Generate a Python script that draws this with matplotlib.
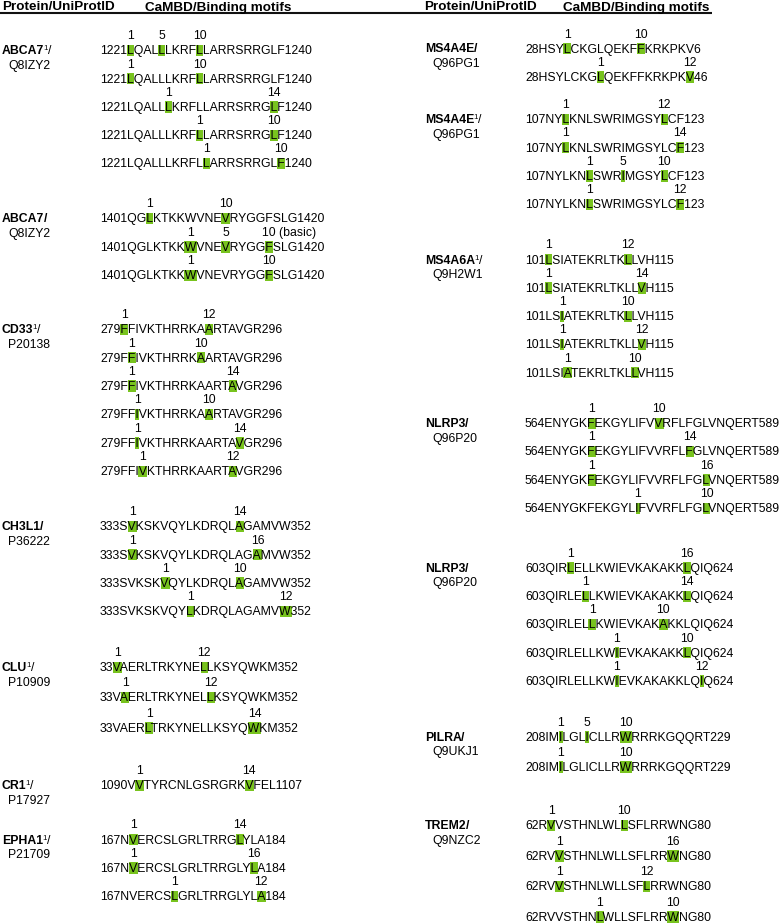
import matplotlib
matplotlib.use("Agg")
import matplotlib.pyplot as plt
from matplotlib.font_manager import FontProperties
from matplotlib.patches import Rectangle

# ---------------- data ----------------
protein_names = ["ABCA7", "ABCA7", "CD33", "CH3L1", "CLU", "CR1", "EPHA1",
                 "MS4A4E", "MS4A4E", "MS4A6A", "NLRP3", "NLRP3", "PILRA", "TREM2"]
uniprot_ids = ["Q8IZY2", "Q8IZY2", "P20138", "P36222", "P10909", "P17927", "P21709",
               "Q96PG1", "Q96PG1", "Q9H2W1", "Q96P20", "Q96P20", "Q9UKJ1", "Q9NZC2"]
footnote_marks = ["1", "", "1", "", "1", "1", "1", "", "1", "1", "", "", "", ""]
domain_starts = ["1221", "1401", "279", "333", "33", "1090", "167",
                 "28", "107", "101", "564", "603", "208", "62"]

block_sequences = [
    ["1221LQALLLKRFLLARRSRRGLF1240"] * 5,
    ["1401QGLKTKKWVNEVRYGGFSLG1420"] * 3,
    ["279FFIVKTHRRKAARTAVGR296"] * 6,
    ["333SVKSKVQYLKDRQLAGAMVW352"] * 4,
    ["33VAERLTRKYNELLKSYQWKM352"] * 3,
    ["1090VVTYRCNLGSRGRKVFEL1107"],
    ["167NVERCSLGRLTRRGLYLA184"] * 3,
    ["28HSYLCKGLQEKFFKRKPKV6", "28HSYLCKGLQEKFFKRKPKV46"],
    ["107NYLKNLSWRIMGSYLCF123"] * 4,
    ["101LSIATEKRLTKLLVH115"] * 5,
    ["564ENYGKFEKGYLIFVVRFLFGLVNQERT589"] * 4,
    ["603QIRLELLKWIEVKAKAKKLQIQ624"] * 5,
    ["208IMILGLICLLRWRRRKGQQRT229"] * 2,
    ["62RVVSTHNLWLLSFLRRWNG80"] * 4,
]

# highlighted residues (0-based index into the residues after the start number)
block_anchor_residues = [
    [[0, 4, 9], [0, 9], [5, 18], [9, 18], [10, 19]],
    [[2, 11], [7, 11, 16], [7, 16]],
    [[0, 11], [1, 10], [1, 14], [2, 11], [2, 15], [3, 14]],
    [[1, 14], [1, 16], [5, 14], [8, 19]],
    [[0, 11], [1, 12], [4, 17]],
    [[1, 14]],
    [[1, 14], [1, 16], [6, 17]],
    [[3, 12], [7, 18]],
    [[2, 14], [2, 16], [5, 9, 14], [5, 16]],
    [[0, 11], [0, 13], [2, 11], [2, 13], [3, 12]],
    [[5, 14], [5, 18], [5, 20], [11, 20]],
    [[3, 18], [5, 18], [6, 15], [9, 18], [9, 20]],
    [[2, 6, 11], [2, 11]],
    [[1, 10], [2, 16], [2, 13], [7, 16]],
]
block_anchor_labels = [
    [["1", "5", "10"], ["1", "10"], ["1", "14"], ["1", "10"], ["1", "10"]],
    [["1", "10"], ["1", "5", "10 (basic)"], ["1", "10"]],
    [["1", "12"], ["1", "10"], ["1", "14"], ["1", "10"], ["1", "14"], ["1", "12"]],
    [["1", "14"], ["1", "16"], ["1", "10"], ["1", "12"]],
    [["1", "12"], ["1", "12"], ["1", "14"]],
    [["1", "14"]],
    [["1", "14"], ["1", "16"], ["1", "12"]],
    [["1", "10"], ["1", "12"]],
    [["1", "12"], ["1", "14"], ["1", "5", "10"], ["1", "12"]],
    [["1", "12"], ["1", "14"], ["1", "10"], ["1", "12"], ["1", "10"]],
    [["1", "10"], ["1", "14"], ["1", "16"], ["1", "10"]],
    [["1", "16"], ["1", "14"], ["1", "10"], ["1", "10"], ["1", "12"]],
    [["1", "5", "10"], ["1", "10"]],
    [["1", "10"], ["1", "16"], ["1", "12"], ["1", "10"]],
]

header_left = "Protein/UniProtID"
header_right = "CaMBD/Binding motifs"

# ---------------- layout ----------------
block_column = [0, 0, 0, 0, 0, 0, 0, 1, 1, 1, 1, 1, 1, 1]
block_first_center = [50, 218, 329, 526, 667, 785, 839.3,
                      48.3, 119, 259.3, 423, 567.7, 736.7, 825]
block_row_step = [28.3, 28.5, 28.4, 28.3, 30.3, 28.3, 28.3,
                  28.4, 28.3, 28.3, 28.3, 28.2, 30, 30.5]
col_name_x = [2, 425.3]
col_id_x = [8, 432]
col_seq_x = [100, 525]
header_x = [(2, 145), (424.3, 562.7)]

GREEN = "#78c31e"
FONT = "Liberation Sans"
SEQ_SIZE = 8.8

fig = plt.figure(figsize=(7.84, 9.24), dpi=100)
ax = fig.add_axes([0, 0, 1, 1])
ax.set_xlim(0, 784)
ax.set_ylim(924, 0)
ax.axis("off")
renderer = fig.canvas.get_renderer()

fp_seq = FontProperties(family=FONT, size=SEQ_SIZE)
fp_bold = FontProperties(family=FONT, size=SEQ_SIZE, weight="bold")
fp_sup = FontProperties(family=FONT, size=5.6)
fp_head = FontProperties(family=FONT, size=9.7, weight="bold")


def tw(s, fp):
    if not s:
        return 0.0
    w, h, d = renderer.get_text_width_height_descent(s, fp, ismath=False)
    return w


# header
for hx_prot, hx_mot in header_x:
    ax.text(hx_prot, 10.5, header_left, fontproperties=fp_head, ha="left", va="baseline")
    ax.text(hx_mot, 10.5, header_right, fontproperties=fp_head, ha="left", va="baseline")
ax.plot([0, 712], [12.8, 12.8], color="#111111", lw=1.5, solid_capstyle="butt")

for b, name in enumerate(protein_names):
    col = block_column[b]
    base0 = block_first_center[b] + 4.2
    # labels
    nx = col_name_x[col]
    ax.text(nx, base0, name, fontproperties=fp_bold, ha="left", va="baseline")
    x = nx + tw(name, fp_bold)
    if footnote_marks[b]:
        sx_sup = x - 1.2
        ax.text(sx_sup, base0 - 4.0, footnote_marks[b], fontproperties=fp_sup,
                ha="left", va="baseline")
        x = sx_sup + tw(footnote_marks[b], fp_sup) + 0.3
        ax.text(x, base0, "/", fontproperties=fp_seq, ha="left", va="baseline")
    else:
        ax.text(x - 0.8, base0, "/", fontproperties=fp_bold, ha="left", va="baseline")
    ax.text(col_id_x[col], base0 + 14.5, uniprot_ids[b], fontproperties=fp_seq,
            ha="left", va="baseline")

    offset = len(domain_starts[b])
    for r, seq in enumerate(block_sequences[b]):
        base = base0 + r * block_row_step[b]
        sx = col_seq_x[col]
        ax.text(sx, base, seq, fontproperties=fp_seq, ha="left", va="baseline", zorder=3)
        for res, lab in zip(block_anchor_residues[b][r], block_anchor_labels[b][r]):
            i = offset + res
            x0 = sx + tw(seq[:i], fp_seq)
            w = tw(seq[:i + 1], fp_seq) - tw(seq[:i], fp_seq)
            ax.add_patch(Rectangle((x0 - 0.3, base - 9.6), w + 0.6, 11.4,
                                   facecolor=GREEN, edgecolor="none", zorder=2))
            cx = x0 + w / 2
            num = lab.split(" ")[0]
            ax.text(cx - tw(num, fp_seq) / 2, base - 15.0, lab, fontproperties=fp_seq,
                    ha="left", va="baseline", zorder=3)

fig.savefig("out.png", dpi=100)
